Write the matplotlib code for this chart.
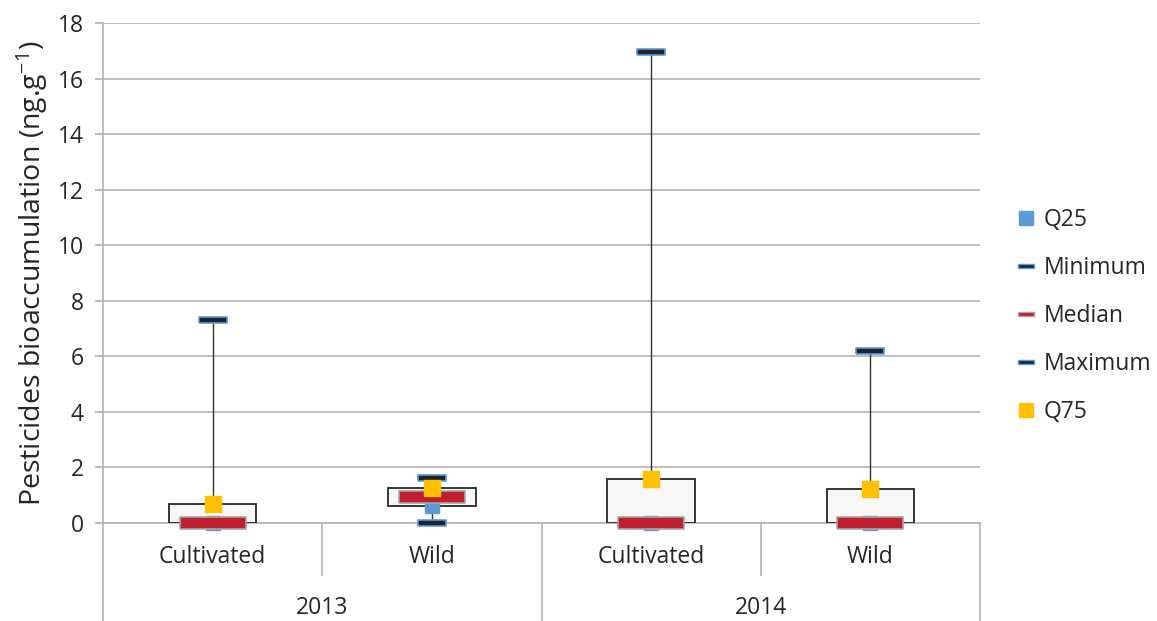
import numpy as np
import matplotlib
matplotlib.use('Agg')
import matplotlib.pyplot as plt
from matplotlib.patches import Rectangle
from matplotlib.lines import Line2D

plt.rcParams['font.family'] = ['Open Sans', 'DejaVu Sans']
plt.rcParams['mathtext.fontset'] = 'custom'
plt.rcParams['mathtext.rm'] = 'Open Sans'
plt.rcParams['mathtext.it'] = 'Open Sans'

# data
groups = ['Cultivated', 'Wild', 'Cultivated', 'Wild']
years = ['2013', '2014']
q25 = [0.0, 0.6, 0.0, 0.0]
minimum = [0.0, 0.0, 0.0, 0.0]
median = [0.0, 0.92, 0.0, 0.0]
maximum = [7.3, 1.63, 16.95, 6.2]
q75 = [0.7, 1.25, 1.6, 1.22]

grid_c = '#b3b3b3'
text_c = '#262626'
blue = '#5b9bd5'
red = '#be1e2d'
navy = '#1f2330'
yellow = '#ffc000'

# wide flat markers (width:height ratio set by the vertices)
def dash(ratio):
    return [(-ratio, -1), (ratio, -1), (ratio, 1), (-ratio, 1), (-ratio, -1)]

fig = plt.figure(figsize=(11.57, 6.21), dpi=100)
ax = fig.add_axes([103/1157, 1-523/621, 877/1157, 500/621])

x = np.arange(len(groups)) + 0.5
ax.set_xlim(0, 4)
ax.set_ylim(0, 18)

# whiskers, boxes, markers
for i, xi in enumerate(x):
    ax.plot([xi, xi], [minimum[i], maximum[i]], color='#333333', lw=1, zorder=2)
    ax.add_patch(Rectangle((xi-0.2, q25[i]), 0.4, q75[i]-q25[i],
                           facecolor='#f7f7f7', edgecolor='#262626', lw=1.3, zorder=3))

ax.plot(x, q25, ls='none', marker='s', ms=10.5, mfc=blue, mec=blue, zorder=4, clip_on=False)
ax.plot(x, minimum, ls='none', marker=dash(4.5), ms=20, mfc=navy, mec=blue, mew=1.2,
        zorder=5, clip_on=False)
ax.plot(x, median, ls='none', marker=dash(5.5), ms=48, mfc=red, mec='#a6a6a6', mew=1.2,
        zorder=6, clip_on=False)
ax.plot(x, maximum, ls='none', marker=dash(4.5), ms=20, mfc=navy, mec=blue, mew=1.2,
        zorder=7, clip_on=False)
ax.plot(x, q75, ls='none', marker='s', ms=11, mfc=yellow, mec=yellow, zorder=8, clip_on=False)

# axes styling
ax.set_yticks(np.arange(0, 19, 2))
ax.yaxis.grid(True, color=grid_c, lw=1.2)
ax.set_axisbelow(True)
for s in ['top', 'right']:
    ax.spines[s].set_visible(False)
ax.spines['left'].set_color(grid_c)
ax.spines['bottom'].set_color(grid_c)
ax.spines['left'].set_linewidth(1.2)
ax.spines['bottom'].set_linewidth(1.2)
ax.tick_params(axis='y', length=6, width=1.2, color=grid_c, labelsize=16.5,
               labelcolor=text_c, pad=8)
ax.set_xticks([])
ax.set_ylabel(r'Pesticides bioaccumulation (ng.g$^{\mathregular{-1}}$)', fontsize=20.5,
              color=text_c, labelpad=5)

# two-level category axis
tr = ax.get_xaxis_transform()
for xs in [0, 2, 4]:
    ax.plot([xs, xs], [0, -0.196], transform=tr, color=grid_c, lw=1.2, clip_on=False)
for xs in [1, 3]:
    ax.plot([xs, xs], [0, -0.104], transform=tr, color=grid_c, lw=1.2, clip_on=False)
for xi, g in zip(x, groups):
    ax.text(xi, -0.068, g, transform=tr, ha='center', va='center', fontsize=16.5,
            color=text_c)
for j, yr in enumerate(years):
    ax.text(1 + 2*j, -0.17, yr, transform=tr, ha='center', va='center', fontsize=16.5,
            color=text_c)

# legend
handles = [
    Line2D([], [], ls='none', marker='s', ms=10, mfc=blue, mec=blue),
    Line2D([], [], ls='none', marker=dash(3.5), ms=12, mfc=navy, mec=blue, mew=1),
    Line2D([], [], ls='none', marker=dash(3.5), ms=12, mfc=red, mec='#a6a6a6', mew=1),
    Line2D([], [], ls='none', marker=dash(3.5), ms=12, mfc=navy, mec=blue, mew=1),
    Line2D([], [], ls='none', marker='s', ms=10, mfc=yellow, mec=yellow),
]
labels = ['Q25', 'Minimum', 'Median', 'Maximum', 'Q75']
fig.legend(handles, labels, loc='center left', bbox_to_anchor=(1017/1157, 1-316/621),
           frameon=False, fontsize=16.5, labelspacing=1.04, handlelength=0.8,
           handletextpad=0.35, labelcolor=text_c, borderaxespad=0, borderpad=0)

fig.savefig('out.png', dpi=100)
